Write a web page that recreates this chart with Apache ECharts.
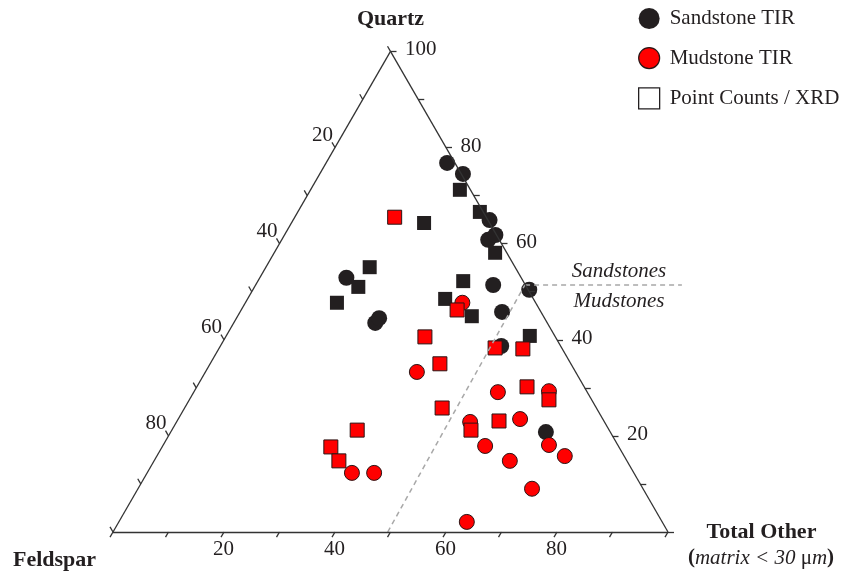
<!DOCTYPE html>
<html><head><meta charset="utf-8">
<script src="https://cdn.jsdelivr.net/npm/echarts@6/dist/echarts.min.js"></script>
<style>html,body{margin:0;padding:0;background:#fff}#c{width:849px;height:571px}</style>
</head><body><div id="c"></div>
<script>
// Ternary compositions in percent: Quartz (Q) and Total Other (T); Feldspar = 100 - Q - T
const sandTirQuartz = [76.8, 74.5, 64.9, 60.8, 61.8, 52.9, 43.5, 44.5, 51.4, 50.4, 45.8, 38.7, 20.8];
const sandTirOther  = [21.8, 25.8, 35.4, 37.2, 38.0, 15.6, 25.5, 25.7, 42.8, 49.8, 47.2, 50.6, 67.6];
const sandPcQuartz  = [71.2, 64.3, 66.6, 58.1, 55.1, 51.0, 47.7, 52.2, 48.5, 44.9, 40.8];
const sandPcOther   = [26.9, 23.9, 32.8, 39.8, 18.7, 18.7, 16.5, 37.0, 35.6, 42.2, 54.7];
const mudTirQuartz  = [47.7, 33.3, 29.1, 29.3, 22.9, 23.5, 18.1, 17.9, 14.8, 15.8, 9.0, 2.1, 12.3, 12.3];
const mudTirOther   = [39.1, 38.1, 54.8, 63.9, 52.9, 61.6, 69.5, 58.1, 64.1, 73.5, 71.0, 62.7, 36.9, 40.9];
const mudPcQuartz   = [65.5, 46.2, 40.6, 38.3, 38.1, 35.0, 30.2, 27.5, 25.8, 21.2, 23.1, 21.2, 17.7, 14.8];
const mudPcOther    = [18.0, 38.9, 35.9, 49.7, 54.8, 41.4, 59.5, 64.8, 46.4, 53.9, 58.0, 33.4, 30.4, 33.3];
const tickValues = [0, 10, 20, 30, 40, 50, 60, 70, 80, 90, 100];
const rightLabels = [20, 40, 60, 80, 100];
const leftLabels = [20, 40, 60, 80];
const bottomLabels = [20, 40, 60, 80];
// Sandstone / mudstone boundary (Quartz, Other)
const boundaryQuartz = [0, 51.5];
const boundaryOther  = [49.5, 48.5];
const boundaryRightEndX = 102.5;

const S = Math.sqrt(3) / 2;
const FONT = "'Liberation Serif','Times New Roman',serif";
const INK = '#231f20';
function tern(q, t) { return [t + q / 2, q * S]; }
function pts(qs, ts) { return qs.map((q, i) => tern(q, ts[i])); }

const L = 6 / 5.55; // tick length in data units
const ticks = [];
tickValues.forEach(v => {
  let p = tern(v, 100 - v); ticks.push({coords: [p, [p[0] + L, p[1]]]});
  p = tern(100 - v, 0); ticks.push({coords: [p, [p[0] - 0.5 * L, p[1] + S * L]]});
  p = tern(0, v); ticks.push({coords: [p, [p[0] - 0.5 * L, p[1] - S * L]]});
});
const tri = [tern(100, 0), tern(0, 0), tern(0, 100), tern(100, 0)];
const edges = [];
for (let i = 0; i < 3; i++) edges.push({coords: [tri[i], tri[i + 1]]});
const bA = tern(boundaryQuartz[0], boundaryOther[0]);
const bB = tern(boundaryQuartz[1], boundaryOther[1]);
const dashed = [{coords: [bA, bB]}, {coords: [bB, [boundaryRightEndX, bB[1]]]}];

const chart = echarts.init(document.getElementById('c'));
const option = {
  animation: false,
  backgroundColor: '#fff',
  grid: {left: 113, right: 181, top: 51.4, bottom: 39},
  xAxis: {type: 'value', min: 0, max: 100, show: false},
  yAxis: {type: 'value', min: 0, max: 100 * S, show: false},
  legend: {
    orient: 'vertical', left: 638, top: 8, padding: 0, itemWidth: 21, itemHeight: 21, itemGap: 18,
    textStyle: {fontFamily: FONT, fontSize: 21, color: INK, padding: [0, 0, 0, 5]},
    data: [
      {name: 'Sandstone TIR', icon: 'circle', itemStyle: {color: INK, opacity: 1}},
      {name: 'Mudstone TIR', icon: 'circle', itemStyle: {color: '#ff0000', borderColor: '#2a1515', borderWidth: 1.2, opacity: 1}},
      {name: 'Point Counts / XRD', icon: 'rect', itemStyle: {color: '#fff', borderColor: INK, borderWidth: 1.3, opacity: 1}}
    ]
  },
  series: [
    {type: 'scatter', name: 'Sandstone TIR', symbol: 'circle', symbolSize: 16, clip: false,
     itemStyle: {color: INK, opacity: 1}, data: pts(sandTirQuartz, sandTirOther), z: 3},
    {type: 'scatter', name: 'Point Counts / XRD', symbol: 'rect', symbolSize: 14, clip: false,
     itemStyle: {color: INK, opacity: 1}, data: pts(sandPcQuartz, sandPcOther), z: 3},
    {type: 'scatter', name: 'Mudstone TIR', symbol: 'circle', symbolSize: 15, clip: false,
     itemStyle: {color: '#ff0000', borderColor: '#2a1515', borderWidth: 1, opacity: 1}, data: pts(mudTirQuartz, mudTirOther), z: 4},
    {type: 'scatter', name: 'Point Counts / XRD', symbol: 'rect', symbolSize: 14, clip: false,
     itemStyle: {color: '#ff0000', borderColor: '#2a1515', borderWidth: 1, opacity: 1}, data: pts(mudPcQuartz, mudPcOther), z: 5},
    {type: 'lines', coordinateSystem: 'cartesian2d', clip: false, silent: true, z: 6,
     lineStyle: {color: '#a8a8a8', width: 1.5, type: [5, 4], opacity: 1}, data: dashed},
    {type: 'lines', coordinateSystem: 'cartesian2d', clip: false, silent: true, z: 7,
     lineStyle: {color: '#333', width: 1.3, opacity: 1}, data: edges.concat(ticks)}
  ]
};
chart.setOption(option);

const px = (q, t) => chart.convertToPixel({gridIndex: 0}, tern(q, t));
const g = [];
function txt(x, y, text, align, opts) {
  g.push({type: 'text', x: x, y: y, silent: true, style: Object.assign({
    text: text, fill: INK, font: '21px ' + FONT, textAlign: align, textVerticalAlign: 'middle'}, opts || {})});
}
rightLabels.forEach(v => { const p = px(v, 100 - v); txt(p[0] + 14.5, p[1] - 1.5, String(v), 'left'); });
leftLabels.forEach(v => { const p = px(100 - v, 0); txt(p[0] - 2, p[1] - 12, String(v), 'right'); });
bottomLabels.forEach(v => { const p = px(0, v); txt(p[0] - 0.5, p[1] + 17, String(v), 'center'); });
const apex = px(100, 0);
txt(apex[0], 19, 'Quartz', 'center', {font: 'bold 22px ' + FONT});
txt(13, 560, 'Feldspar', 'left', {font: 'bold 22px ' + FONT});
txt(761.5, 532, 'Total Other', 'center', {font: 'bold 22px ' + FONT});
g.push({type: 'text', x: 761, y: 558, silent: true, style: {
  text: '{b|(}{i|matrix < 30 }{n|μ}{i|m}{b|)}', fill: INK, textAlign: 'center', textVerticalAlign: 'middle',
  rich: {
    b: {font: 'bold 21px ' + FONT, fill: INK},
    i: {font: 'italic 21px ' + FONT, fill: INK},
    n: {font: '21px ' + FONT, fill: INK}
  }}});
const bp = px(boundaryQuartz[1], boundaryOther[1]);
txt(619, bp[1] - 13, 'Sandstones', 'center', {font: 'italic 21px ' + FONT});
txt(619, bp[1] + 17, 'Mudstones', 'center', {font: 'italic 21px ' + FONT});
chart.setOption({graphic: g});
</script></body></html>
